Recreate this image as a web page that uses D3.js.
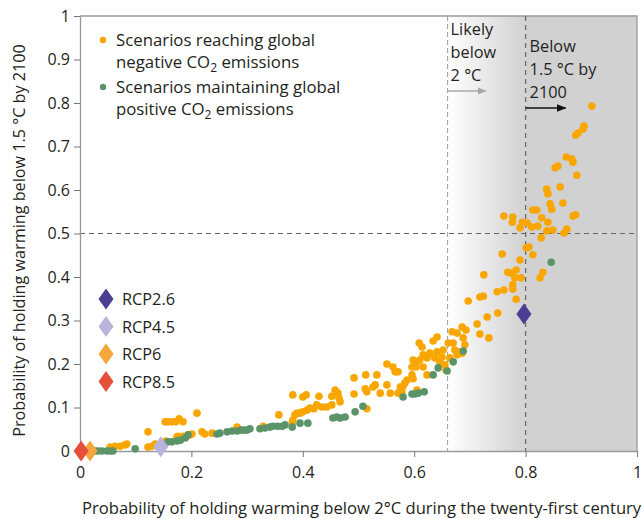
<!DOCTYPE html>
<html>
<head>
<meta charset="utf-8">
<script src="https://cdn.jsdelivr.net/npm/d3@7/dist/d3.min.js"></script>
<style>
  html, body { margin: 0; padding: 0; background: #fff; }
  svg text { font-family: "Open Sans", Lato, sans-serif; fill: #231f20; }
</style>
</head>
<body>
<svg id="chart" width="644" height="519"></svg>
<script>
// Scenarios reaching global negative CO2 emissions: [P(below 2 °C), P(below 1.5 °C by 2100)]
const negativeScenarios = [
  [0.054,0.009],[0.063,0.011],[0.072,0.011],[0.081,0.014],[0.084,0.016],
  [0.122,0.009],[0.129,0.011],[0.135,0.016],[0.122,0.044],[0.153,0.067],
  [0.158,0.067],[0.165,0.067],[0.172,0.067],[0.178,0.074],[0.185,0.067],
  [0.210,0.087],[0.154,0.023],[0.174,0.032],[0.176,0.034],[0.185,0.034],
  [0.197,0.037],[0.201,0.039],[0.219,0.044],[0.224,0.039],[0.237,0.041],
  [0.282,0.055],[0.329,0.057],[0.357,0.083],[0.381,0.064],[0.382,0.071],
  [0.386,0.083],[0.390,0.087],[0.395,0.087],[0.400,0.090],[0.408,0.094],
  [0.413,0.099],[0.420,0.097],[0.425,0.106],[0.434,0.101],[0.443,0.101],
  [0.452,0.106],[0.467,0.113],[0.465,0.122],[0.458,0.140],[0.463,0.133],
  [0.382,0.129],[0.406,0.129],[0.429,0.126],[0.452,0.126],[0.400,0.124],
  [0.492,0.168],[0.492,0.131],[0.513,0.175],[0.512,0.143],[0.515,0.136],
  [0.530,0.152],[0.533,0.175],[0.539,0.133],[0.551,0.152],[0.557,0.133],
  [0.551,0.200],[0.562,0.193],[0.566,0.182],[0.571,0.133],[0.515,0.097],
  [0.526,0.147],[0.575,0.147],[0.578,0.136],[0.580,0.149],[0.583,0.156],
  [0.587,0.163],[0.596,0.175],[0.598,0.166],[0.605,0.140],[0.596,0.193],
  [0.603,0.193],[0.616,0.193],[0.623,0.214],[0.623,0.175],[0.598,0.209],
  [0.610,0.209],[0.616,0.221],[0.628,0.225],[0.637,0.214],[0.641,0.228],
  [0.650,0.216],[0.652,0.232],[0.655,0.198],[0.664,0.214],[0.646,0.205],
  [0.673,0.232],[0.677,0.221],[0.686,0.225],[0.609,0.248],[0.614,0.239],
  [0.634,0.253],[0.641,0.262],[0.661,0.248],[0.670,0.248],[0.668,0.274],
  [0.677,0.271],[0.686,0.285],[0.693,0.278],[0.691,0.244],[0.688,0.260],
  [0.679,0.228],[0.657,0.186],[0.605,0.205],[0.571,0.182],
  [0.697,0.345],[0.718,0.354],[0.724,0.356],[0.749,0.366],[0.750,0.317],
  [0.731,0.308],[0.713,0.292],[0.718,0.269],[0.734,0.260],[0.725,0.405],
  [0.761,0.370],[0.777,0.382],[0.777,0.372],[0.783,0.349],[0.768,0.411],
  [0.774,0.409],[0.783,0.416],[0.781,0.398],[0.792,0.398],[0.826,0.398],
  [0.831,0.411],[0.758,0.453],[0.790,0.439],[0.813,0.451],[0.801,0.467],
  [0.806,0.469],[0.828,0.490],[0.838,0.506],[0.849,0.508],[0.869,0.501],
  [0.874,0.510],[0.885,0.540],[0.890,0.543],[0.761,0.540],[0.777,0.538],
  [0.776,0.526],[0.794,0.526],[0.803,0.524],[0.790,0.513],[0.811,0.515],
  [0.822,0.517],[0.829,0.536],[0.840,0.526],[0.813,0.554],[0.820,0.554],
  [0.844,0.568],[0.847,0.556],[0.867,0.570],[0.838,0.602],[0.840,0.591],
  [0.862,0.607],[0.892,0.634],[0.853,0.651],[0.858,0.655],[0.873,0.676],
  [0.883,0.671],[0.885,0.664],[0.890,0.726],[0.894,0.731],[0.903,0.740],
  [0.905,0.747],[0.919,0.793]
];

// Scenarios maintaining global positive CO2 emissions
const positiveScenarios = [
  [0.027,0.000],[0.032,0.000],[0.039,0.000],[0.048,0.000],[0.054,0.000],
  [0.059,0.000],[0.099,0.005],[0.158,0.021],[0.165,0.021],[0.174,0.023],
  [0.180,0.025],[0.189,0.030],[0.194,0.037],[0.246,0.039],[0.251,0.041],
  [0.264,0.044],[0.273,0.046],[0.282,0.046],[0.289,0.048],[0.294,0.048],
  [0.300,0.048],[0.305,0.051],[0.323,0.051],[0.332,0.053],[0.341,0.055],
  [0.346,0.057],[0.355,0.057],[0.363,0.057],[0.368,0.060],[0.381,0.055],
  [0.395,0.064],[0.409,0.064],[0.454,0.076],[0.461,0.078],[0.467,0.076],
  [0.476,0.078],[0.494,0.090],[0.508,0.103],[0.580,0.124],[0.596,0.131],
  [0.601,0.131],[0.607,0.133],[0.618,0.136],[0.634,0.175],[0.643,0.191],
  [0.659,0.184],[0.670,0.205],[0.688,0.230],[0.846,0.434]
];

// Representative Concentration Pathways
const rcpNames  = ["RCP2.6", "RCP4.5", "RCP6", "RCP8.5"];
const rcpX      = [0.797, 0.145, 0.018, 0.002];
const rcpY      = [0.315, 0.010, 0.000, 0.000];
const rcpColors = ["#4a3f93", "#b9b4dc", "#f5a63c", "#e5503b"];

const xTicks = [0, 0.2, 0.4, 0.6, 0.8, 1];
const yTicks = [0, 0.1, 0.2, 0.3, 0.4, 0.5, 0.6, 0.7, 0.8, 0.9, 1];

const likely2C = 0.66;   // "likely below 2 °C" threshold
const below15 = 0.8;     // "below 1.5 °C by 2100" threshold
const half = 0.5;

const orange = "#f9a700";
const green  = "#5a9468";
const FS = 16.3;       // annotation / legend text
const TICK_FS = 16;    // tick labels

const svg = d3.select("#chart");
const m = { left: 80, right: 7, top: 16, bottom: 68 };
const W = 644, H = 519;

const x = d3.scaleLinear().domain([0, 1]).range([m.left, W - m.right]);
const y = d3.scaleLinear().domain([0, 1]).range([H - m.bottom, m.top]);

// background shading: fade from the 2 °C threshold into the 1.5 °C zone
const defs = svg.append("defs");
const grad = defs.append("linearGradient").attr("id", "fade")
  .attr("x1", 0).attr("x2", 1).attr("y1", 0).attr("y2", 0);
grad.append("stop").attr("offset", "0%").attr("stop-color", "#ffffff");
grad.append("stop").attr("offset", "100%").attr("stop-color", "#d1d1d1");

svg.append("rect")
  .attr("x", x(likely2C)).attr("y", y(1))
  .attr("width", x(below15) - x(likely2C)).attr("height", y(0) - y(1))
  .attr("fill", "url(#fade)");
svg.append("rect")
  .attr("x", x(below15)).attr("y", y(1))
  .attr("width", x(1) - x(below15)).attr("height", y(0) - y(1))
  .attr("fill", "#d1d1d1");

// frame: top and right edges
svg.append("path")
  .attr("d", `M${x(0)},${y(1)}H${x(1)}V${y(0)}`)
  .attr("fill", "none").attr("stroke", "#9a9a9a").attr("stroke-width", 1.3);

// threshold lines
svg.append("line")
  .attr("x1", x(likely2C)).attr("x2", x(likely2C)).attr("y1", y(1)).attr("y2", y(0))
  .attr("stroke", "#9a9a9a").attr("stroke-width", 1).attr("stroke-dasharray", "5,3");
svg.append("line")
  .attr("x1", x(below15)).attr("x2", x(below15)).attr("y1", y(1)).attr("y2", y(0))
  .attr("stroke", "#666").attr("stroke-width", 1.2).attr("stroke-dasharray", "5,4");
svg.append("line")
  .attr("x1", x(0)).attr("x2", x(1)).attr("y1", y(half)).attr("y2", y(half))
  .attr("stroke", "#666").attr("stroke-width", 1.2).attr("stroke-dasharray", "5,4");

// axes
const xAxis = svg.append("g").attr("transform", `translate(0,${y(0)})`)
  .call(d3.axisBottom(x).tickValues(xTicks).tickFormat(d3.format("")).tickSize(6).tickSizeOuter(0));
const yAxis = svg.append("g").attr("transform", `translate(${x(0)},0)`)
  .call(d3.axisLeft(y).tickValues(yTicks).tickFormat(d3.format("")).tickSize(6).tickSizeOuter(0));
[xAxis, yAxis].forEach(g => {
  g.select(".domain").attr("stroke", "#9a9a9a").attr("stroke-width", 1.3);
  g.selectAll(".tick line").attr("stroke", "#777");
  g.selectAll(".tick text").attr("font-size", TICK_FS).style("font-family", "'Open Sans', sans-serif").attr("fill", "#231f20");
});
xAxis.selectAll(".tick text").attr("dy", "1.15em");
yAxis.selectAll(".tick text").attr("x", -10);

// scenario points
const pts = svg.append("g");
pts.selectAll("circle.neg").data(negativeScenarios).join("circle")
  .attr("class", "neg")
  .attr("cx", d => x(d[0])).attr("cy", d => y(d[1])).attr("r", 3.8)
  .attr("fill", orange);
pts.selectAll("circle.pos").data(positiveScenarios).join("circle")
  .attr("class", "pos")
  .attr("cx", d => x(d[0])).attr("cy", d => y(d[1])).attr("r", 3.8)
  .attr("fill", green);

// RCP diamonds
const diamond = (w, h) => `M0,${-h/2}L${w/2},0L0,${h/2}L${-w/2},0Z`;
svg.append("g").selectAll("path").data(rcpNames).join("path")
  .attr("d", diamond(15, 21))
  .attr("transform", (d, i) => `translate(${x(rcpX[i])},${y(rcpY[i])})`)
  .attr("fill", (d, i) => rcpColors[i]);

// scenario legend
const leg = svg.append("g");
const legItems = [
  { color: orange, lines: ["Scenarios reaching global", "negative CO|2| emissions"], y: 46 },
  { color: green,  lines: ["Scenarios maintaining global", "positive CO|2| emissions"], y: 93 }
];
legItems.forEach(it => {
  leg.append("circle").attr("cx", 103).attr("cy", it.y - 6).attr("r", 3.2).attr("fill", it.color);
  it.lines.forEach((ln, k) => {
    const t = leg.append("text").attr("x", 116).attr("y", it.y + k * 22).attr("font-size", 16.8);
    const parts = ln.split("|");
    t.append("tspan").text(parts[0]);
    if (parts.length > 1) {
      t.append("tspan").attr("font-size", 12).attr("dy", 4).text(parts[1]);
      t.append("tspan").attr("dy", -4).text(parts[2]);
    }
  });
});

// RCP legend
const rcpLeg = svg.append("g");
rcpNames.forEach((name, i) => {
  const cy = 299 + i * 27.5;
  rcpLeg.append("path").attr("d", diamond(15, 21))
    .attr("transform", `translate(106,${cy})`).attr("fill", rcpColors[i]);
  rcpLeg.append("text").attr("x", 122).attr("y", cy + 6).attr("font-size", FS).text(name);
});

// threshold annotations
const ann = svg.append("g");
["Likely", "below", "2 °C"].forEach((s, i) =>
  ann.append("text").attr("x", x(likely2C) + 3).attr("y", 35 + i * 23).attr("font-size", FS).text(s));
["Below", "1.5 °C by", "2100"].forEach((s, i) =>
  ann.append("text").attr("x", x(below15) + 4).attr("y", 52 + i * 23).attr("font-size", FS).text(s));

defs.append("marker").attr("id", "headGray").attr("viewBox", "0 0 10 10")
  .attr("refX", 9).attr("refY", 5).attr("markerWidth", 9).attr("markerHeight", 9)
  .attr("markerUnits", "userSpaceOnUse").attr("orient", "auto")
  .append("path").attr("d", "M0,1L10,5L0,9Z").attr("fill", "#a8a8a8");
defs.append("marker").attr("id", "headBlack").attr("viewBox", "0 0 10 10")
  .attr("refX", 9).attr("refY", 5).attr("markerWidth", 10).attr("markerHeight", 10)
  .attr("markerUnits", "userSpaceOnUse").attr("orient", "auto")
  .append("path").attr("d", "M0,1L10,5L0,9Z").attr("fill", "#111");

ann.append("line").attr("x1", x(likely2C)).attr("x2", x(likely2C) + 38)
  .attr("y1", 91).attr("y2", 91).attr("stroke", "#a8a8a8").attr("stroke-width", 1.4)
  .attr("marker-end", "url(#headGray)");
ann.append("line").attr("x1", x(below15)).attr("x2", x(below15) + 40)
  .attr("y1", 108).attr("y2", 108).attr("stroke", "#111").attr("stroke-width", 1.4)
  .attr("marker-end", "url(#headBlack)");

// axis titles
svg.append("text")
  .attr("transform", `translate(25,${(y(0) + y(1)) / 2 + 7}) rotate(-90)`)
  .attr("text-anchor", "middle").attr("font-size", 16.2)
  .text("Probability of holding warming below 1.5 °C by 2100");
svg.append("text")
  .attr("x", 82).attr("y", 514).attr("font-size", 16.6)
  .text("Probability of holding warming below 2°C during the twenty-first century");
</script>
</body>
</html>
